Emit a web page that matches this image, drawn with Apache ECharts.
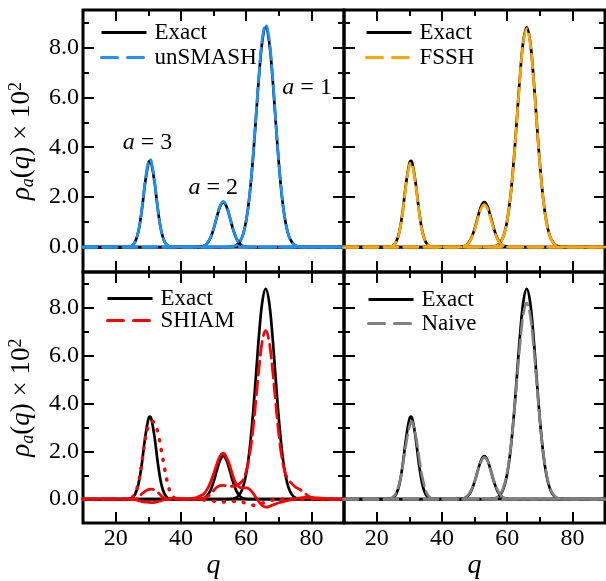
<!DOCTYPE html>
<html>
<head>
<meta charset="utf-8">
<script src="https://cdn.jsdelivr.net/npm/echarts@6/dist/echarts.min.js"></script>
<style>
  html, body { margin: 0; padding: 0; background: #fff; }
  #chart { width: 606px; height: 581px; }
</style>
</head>
<body>
<div id="chart"></div>
<script>
// tick positions
var xTicksMajor = [20, 40, 60, 80];
var xTicksMinor = [30, 50, 70];
var yTicksMajor = [0, 2, 4, 6, 8];
var yTicksMinor = [-1, 1, 3, 5, 7, 9];

// exact densities, [q, rho*100]
var exactA3 = [[10,0],[23,0],[24,0.01],[25,0.05],[26,0.21],[27,0.63],[28,1.45],[29,2.53],[30,3.33],[30.5,3.45],[31,3.33],[32,2.53],[33,1.45],[34,0.63],[35,0.21],[36,0.05],[37,0.01],[38,0],[90,0]];
var exactA2 = [[10,0],[45,0],[46,0.01],[47,0.04],[48,0.14],[49,0.35],[50,0.71],[51,1.19],[52,1.62],[53,1.8],[54,1.62],[55,1.19],[56,0.71],[57,0.35],[58,0.14],[59,0.04],[60,0.01],[61,0],[90,0]];
var exactA1 = [[10,0],[54,0],[55,0.01],[56,0.02],[57,0.07],[58,0.2],[59,0.48],[60,1.04],[61,1.99],[62,3.4],[63,5.15],[64,6.94],[65,8.29],[66,8.8],[67,8.29],[68,6.94],[69,5.15],[70,3.4],[71,1.99],[72,1.04],[73,0.48],[74,0.2],[75,0.07],[76,0.02],[77,0.01],[78,0],[90,0]];

// unSMASH
var unsmashA3 = [[10,0],[23,0],[24,0.01],[25,0.05],[26,0.22],[27,0.65],[28,1.48],[29,2.59],[30,3.41],[30.5,3.53],[31,3.4],[32,2.58],[33,1.48],[34,0.64],[35,0.22],[36,0.05],[37,0.01],[38,0],[90,0]];
var unsmashA2 = [[10,0],[45,0],[46,0.01],[47,0.04],[48,0.14],[49,0.35],[50,0.72],[51,1.21],[52,1.65],[53,1.83],[54,1.65],[55,1.21],[56,0.72],[57,0.35],[58,0.14],[59,0.04],[60,0.01],[61,0],[90,0]];
var unsmashA1 = [[10,0],[54,0],[55,0.01],[56,0.02],[57,0.07],[58,0.2],[59,0.48],[60,1.05],[61,2.02],[62,3.45],[63,5.22],[64,7.03],[65,8.4],[66,8.92],[67,8.4],[68,7.03],[69,5.22],[70,3.45],[71,2.02],[72,1.05],[73,0.48],[74,0.2],[75,0.07],[76,0.02],[77,0.01],[78,0],[90,0]];

// FSSH
var fsshA3 = [[10,0],[23,0],[24,0.01],[25,0.05],[26,0.21],[27,0.62],[28,1.42],[29,2.48],[30,3.26],[30.5,3.38],[31,3.26],[32,2.48],[33,1.42],[34,0.62],[35,0.21],[36,0.05],[37,0.01],[38,0],[90,0]];
var fsshA2 = [[10,0],[45,0],[46,0.01],[47,0.04],[48,0.13],[49,0.33],[50,0.67],[51,1.13],[52,1.53],[53,1.7],[54,1.53],[55,1.12],[56,0.67],[57,0.33],[58,0.13],[59,0.04],[60,0.01],[61,0],[90,0]];
var fsshA1 = [[10,0],[54,0],[55,0.01],[56,0.02],[57,0.07],[58,0.19],[59,0.48],[60,1.03],[61,1.98],[62,3.38],[63,5.12],[64,6.9],[65,8.24],[66,8.75],[67,8.24],[68,6.9],[69,5.12],[70,3.38],[71,1.98],[72,1.03],[73,0.48],[74,0.19],[75,0.07],[76,0.02],[77,0.01],[78,0],[90,0]];

// SHIAM (a=1 dashed, a=2 solid, a=3 dotted)
var shiamA1 = [[10,0],[26,0],[27,0.05],[28,0.22],[29,0.33],[30,0.4],[31,0.42],[32,0.38],[33,0.28],[34,0.14],[35,0.04],[36,0],[46,0],[47,0.03],[48,0.1],[49,0.2],[50,0.35],[51,0.5],[52,0.57],[53,0.58],[54,0.56],[55,0.54],[56,0.55],[57,0.58],[58,0.65],[59,0.8],[60,1.15],[61,1.8],[62,2.8],[63,4.15],[64,5.56],[65,6.64],[66,7.05],[67,6.64],[68,5.56],[69,4.13],[70,2.75],[71,1.7],[72,1.1],[73,0.82],[74,0.65],[75,0.52],[76,0.44],[77,0.36],[78,0.25],[79,0.14],[80,0.07],[81,0.03],[82,0],[90,0]];
var shiamA2 = [[10,0],[25,0],[26,-0.02],[27,-0.06],[28,-0.1],[29,-0.12],[30,-0.13],[31,-0.14],[32,-0.13],[33,-0.1],[34,-0.06],[35,-0.02],[36,0.01],[37,0.03],[38,0.03],[40,0.01],[42,0],[43,0.02],[44,0.04],[45,0.08],[46,0.14],[47,0.22],[48,0.4],[49,0.68],[50,1.05],[51,1.45],[52,1.8],[53,1.92],[54,1.75],[55,1.4],[56,0.95],[57,0.62],[58,0.5],[59,0.47],[60,0.47],[61,0.42],[62,0.27],[63,0.08],[64,-0.12],[65,-0.27],[66,-0.33],[67,-0.31],[68,-0.25],[69,-0.2],[70,-0.15],[72,-0.08],[74,-0.02],[76,0.04],[78,0.07],[80,0.07],[82,0.05],[84,0.03],[86,0.01],[88,0],[90,0]];
var shiamA3 = [[10,0],[23,0],[24,0.02],[25,0.07],[26,0.25],[27,0.7],[28,1.5],[29,2.45],[30,3.05],[30.5,3.2],[31,3.25],[32,3.18],[33,2.75],[34,2.05],[35,1.3],[36,0.62],[37,0.22],[38,0.06],[39,0.02],[40,0],[45,0],[46,-0.02],[48,-0.05],[50,-0.08],[52,-0.12],[54,-0.12],[56,-0.09],[58,-0.1],[60,-0.17],[62,-0.25],[63,-0.26],[64,-0.22],[66,-0.12],[68,-0.04],[70,0],[90,0]];

// Naive
var naiveA3 = [[10,0],[23,0],[24,0.02],[25,0.09],[26,0.27],[27,0.68],[28,1.4],[29,2.3],[30,3.0],[30.7,3.25],[31,3.2],[32,2.65],[33,1.75],[34,0.92],[35,0.38],[36,0.12],[37,0.03],[38,0.01],[39,0],[90,0]];
var naiveA2 = [[10,0],[45,0],[46,0.02],[47,0.06],[48,0.17],[49,0.38],[50,0.72],[51,1.17],[52,1.57],[53,1.75],[54,1.6],[55,1.2],[56,0.76],[57,0.4],[58,0.17],[59,0.06],[60,0.02],[61,0],[90,0]];
var naiveA1 = [[10,0],[54,0],[55,0.01],[56,0.03],[57,0.09],[58,0.23],[59,0.54],[60,1.11],[61,2.04],[62,3.37],[63,4.97],[64,6.57],[65,7.76],[66,8.2],[67,7.76],[68,6.57],[69,4.97],[70,3.37],[71,2.04],[72,1.11],[73,0.54],[74,0.23],[75,0.09],[76,0.03],[77,0.01],[78,0],[90,0]];

// state labels in the first panel: [q, y, state]
var annotations = [[29.8, 4.18, '3'], [49.9, 2.37, '2'], [78.7, 6.39, '1']];

var methodNames = ['unSMASH', 'FSSH', 'SHIAM', 'Naive'];
var methodColors = ['#1e90ff', '#ffa500', '#ff0000', '#808080'];

var SERIF = "'Liberation Serif', 'Times New Roman', serif";
var DASH = [14, 6];

var chart = echarts.init(document.getElementById('chart'));

var grids = [
  { left: 83, top: 10, width: 261, height: 262 },
  { left: 344, top: 10, width: 261, height: 262 },
  { left: 83, top: 272, width: 261, height: 262 },
  { left: 344, top: 272, width: 261, height: 262 }
].map(function (g) {
  return Object.assign({ show: true, borderColor: '#000', borderWidth: 3, backgroundColor: 'transparent' }, g);
});

function tickAxis(gi, pos, lo, hi, ticks, len, labels) {
  return {
    type: 'value', gridIndex: gi, position: pos, min: lo, max: hi,
    axisLine: { show: false, onZero: false },
    splitLine: { show: false },
    axisTick: { show: true, inside: true, length: len, customValues: ticks, lineStyle: { color: '#000', width: 2 } },
    axisLabel: {
      show: labels, customValues: ticks, margin: 4, color: '#000',
      fontFamily: SERIF, fontSize: 24,
      formatter: pos === 'left' ? function (v) { return v.toFixed(1); } : '{value}'
    }
  };
}

var xAxes = [], yAxes = [];
for (var gi = 0; gi < 4; gi++) {
  var bottomRow = gi >= 2, leftCol = gi % 2 === 0;
  var xb = tickAxis(gi, 'bottom', 10, 90, xTicksMajor, 11, bottomRow);
  if (bottomRow) {
    xb.name = 'q';
    xb.nameLocation = 'middle';
    xb.nameGap = 25;
    xb.nameTextStyle = { fontFamily: SERIF, fontStyle: 'italic', fontSize: 28, color: '#000' };
  }
  xAxes.push(xb,
    tickAxis(gi, 'bottom', 10, 90, xTicksMinor, 6, false),
    tickAxis(gi, 'top', 10, 90, xTicksMajor, 11, false),
    tickAxis(gi, 'top', 10, 90, xTicksMinor, 6, false));

  var yl = tickAxis(gi, 'left', -1, 9.5, yTicksMajor, 11, leftCol);
  if (leftCol) {
    yl.name = '{i|ρ}{s|a}{n|(}{i|q}{n|) × 10}{p|2}';
    yl.nameLocation = 'middle';
    yl.nameRotate = 90;
    yl.nameGap = 46;
    yl.nameTextStyle = {
      color: '#000',
      rich: {
        i: { fontFamily: SERIF, fontStyle: 'italic', fontSize: 27, lineHeight: 30, color: '#000' },
        n: { fontFamily: SERIF, fontSize: 27, lineHeight: 30, color: '#000' },
        s: { fontFamily: SERIF, fontStyle: 'italic', fontSize: 18, verticalAlign: 'bottom', lineHeight: 30, color: '#000' },
        p: { fontFamily: SERIF, fontSize: 18, verticalAlign: 'top', lineHeight: 30, color: '#000' }
      }
    };
  }
  yAxes.push(yl,
    tickAxis(gi, 'left', -1, 9.5, yTicksMinor, 6, false),
    tickAxis(gi, 'right', -1, 9.5, yTicksMajor, 11, false),
    tickAxis(gi, 'right', -1, 9.5, yTicksMinor, 6, false));
}

function curve(name, gi, data, color, type, width) {
  return {
    type: 'line', name: name, xAxisIndex: gi * 4, yAxisIndex: gi * 4,
    data: data, symbol: 'none', smooth: 0.4, silent: true,
    lineStyle: { color: color, width: width || 2.7, type: type, cap: type === 'solid' ? 'butt' : 'round' },
    itemStyle: { color: color }
  };
}

var series = [];
var methodSets = [
  [unsmashA1, unsmashA2, unsmashA3],
  [fsshA1, fsshA2, fsshA3],
  [shiamA1, shiamA2, shiamA3],
  [naiveA1, naiveA2, naiveA3]
];
for (var p = 0; p < 4; p++) {
  series.push(curve('Exact', p, exactA1, '#000', 'solid'),
    curve('Exact', p, exactA2, '#000', 'solid'),
    curve('Exact', p, exactA3, '#000', 'solid'));
  var m = methodSets[p], c = methodColors[p], nm = methodNames[p];
  if (p === 2) {
    series.push(curve(nm, p, m[0], c, DASH, 2.8),
      curve(nm + ' a2', p, m[1], c, 'solid', 2.8),
      curve(nm + ' a3', p, m[2], c, [1, 9], 3.5));
  } else {
    series.push(curve(nm, p, m[0], c, DASH),
      curve(nm, p, m[1], c, DASH),
      curve(nm, p, m[2], c, DASH));
  }
}

series.push({
  type: 'scatter', xAxisIndex: 0, yAxisIndex: 0, symbolSize: 0, silent: true,
  data: annotations,
  itemStyle: { opacity: 1 },
  label: {
    show: true, position: 'inside', color: '#000', opacity: 1, textBorderWidth: 0,
    formatter: function (d) { return '{i|a} = ' + d.value[2]; },
    fontFamily: SERIF, fontSize: 24,
    rich: { i: { fontFamily: SERIF, fontStyle: 'italic', fontSize: 24, color: '#000' } }
  }
});

var legendLeft = [100, 365, 106, 367];
var legendTop = [21, 21, 287, 288];
var legendGap = [2, 2, -1, 1];
var legends = methodNames.map(function (nm, i) {
  return {
    orient: 'vertical', left: legendLeft[i], top: legendTop[i], padding: 0,
    itemWidth: 45, itemHeight: 14, itemGap: legendGap[i], selectedMode: false,
    itemStyle: { opacity: 0 },
    data: [
      { name: 'Exact', lineStyle: { width: 3, type: 'solid' } },
      { name: nm, lineStyle: { width: 3, type: [16, 10] } }
    ],
    textStyle: { fontFamily: SERIF, fontSize: 23, color: '#000', padding: [0, 0, 0, 3] }
  };
});

chart.setOption({
  animation: false,
  grid: grids,
  xAxis: xAxes,
  yAxis: yAxes,
  legend: legends,
  series: series
});
</script>
</body>
</html>
